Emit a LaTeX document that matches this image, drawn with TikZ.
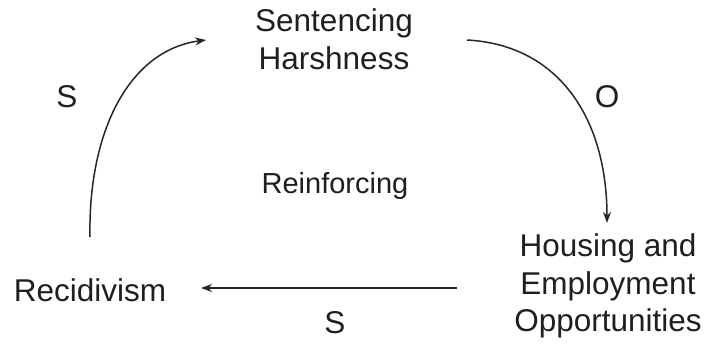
\documentclass[tikz,border=0pt]{standalone}
\usepackage{fontspec}
\setmainfont{Liberation Sans}
\usetikzlibrary{arrows.meta}
\begin{document}
\begin{tikzpicture}[x=1pt,y=-1pt,
  lbl/.style={font=\fontsize{31.5}{37.5}\selectfont, text=black!88, align=center, inner sep=0pt},
  small/.style={lbl, font=\fontsize{29}{35}\selectfont},
  conn/.style={draw=black!85, line width=1.5pt, -{Stealth[length=11pt,width=8pt]}}]
\useasboundingbox (0,0) rectangle (707,349);
\node[lbl] (sent) at (334,39) {Sentencing\\Harshness};
\node[lbl] (house) at (608,286) {Housing and\\Employment\\Opportunities};
\node[lbl] (rec) at (90,290) {Recidivism};
\node[small] (reinf) at (335,186) {Reinforcing};
\node[lbl] (s1) at (67,97) {S};
\node[lbl] (o1) at (607,97) {O};
\node[lbl] (s2) at (335,323) {S};
\coordinate (a1) at (90,237);
\coordinate (a2) at (206,40);
\coordinate (b1) at (467,40);
\coordinate (b2) at (607,223);
\coordinate (c1) at (457,288);
\coordinate (c2) at (201,288);
\draw[conn] (a1) .. controls (88,130) and (130,50) .. (a2);
\draw[conn] (b1) .. controls (560,45) and (607,120) .. (b2);
\draw[conn] (c1) -- (c2);
\end{tikzpicture}
\end{document}
